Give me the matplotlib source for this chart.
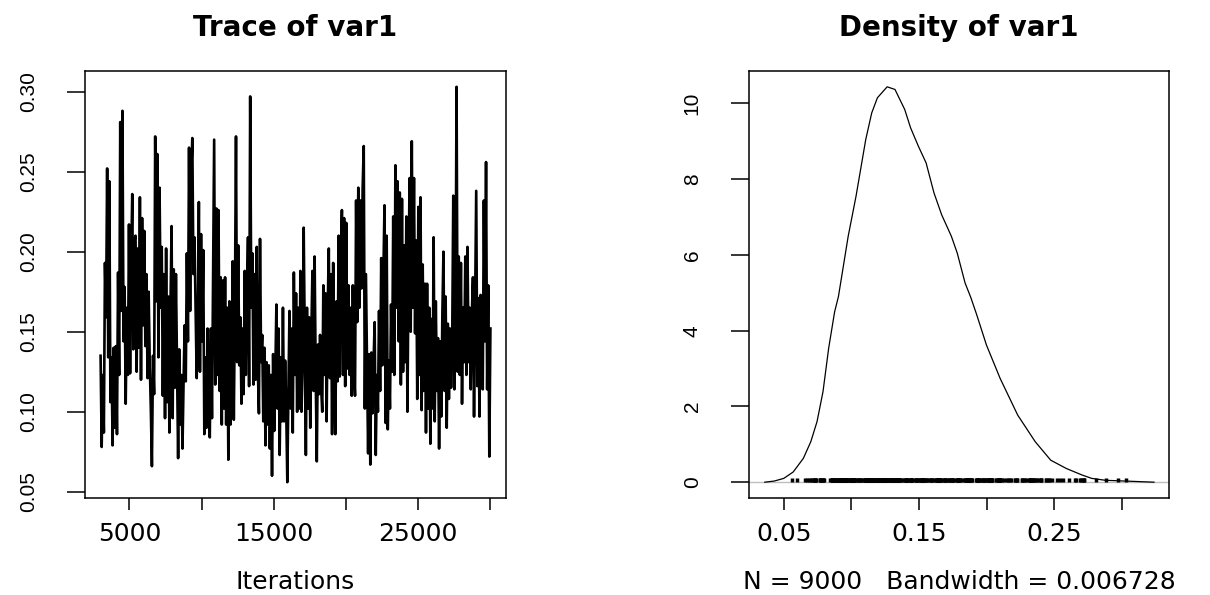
import numpy as np
import matplotlib.pyplot as plt

# coda-style plot of one MCMC chain: trace on the left, kernel density on the right
iter_start = 3003
iter_end = 30000
n_samples = 9000
bandwidth = 0.006728

# chain values (left to right)
trace_vals = [
    0.135, 0.078, 0.123, 0.087, 0.193, 0.159, 0.252, 0.134, 0.244, 0.106,
    0.134, 0.079, 0.140, 0.090, 0.141, 0.086, 0.187, 0.123, 0.281, 0.163,
    0.288, 0.144, 0.178, 0.105, 0.165, 0.123, 0.217, 0.124, 0.194, 0.236,
    0.139, 0.207, 0.210, 0.125, 0.202, 0.140, 0.234, 0.120, 0.221, 0.154,
    0.213, 0.141, 0.186, 0.121, 0.175, 0.131, 0.102, 0.066, 0.135, 0.111,
    0.272, 0.169, 0.261, 0.134, 0.240, 0.165, 0.203, 0.110, 0.186, 0.096,
    0.202, 0.106, 0.172, 0.087, 0.165, 0.216, 0.096, 0.189, 0.115, 0.186,
    0.127, 0.071, 0.139, 0.092, 0.123, 0.077, 0.119, 0.154, 0.119, 0.199,
    0.144, 0.265, 0.163, 0.248, 0.271, 0.186, 0.209, 0.163, 0.121, 0.150,
    0.231, 0.125, 0.211, 0.144, 0.201, 0.086, 0.134, 0.090, 0.152, 0.102,
    0.084, 0.152, 0.096, 0.179, 0.270, 0.117, 0.227, 0.123, 0.226, 0.113,
    0.184, 0.092, 0.182, 0.102,
    # 10000 - 20000
    0.184, 0.092, 0.165, 0.070, 0.169, 0.092, 0.123, 0.194, 0.095, 0.165,
    0.272, 0.131, 0.204, 0.129, 0.159, 0.105, 0.152, 0.111, 0.188, 0.123,
    0.175, 0.209, 0.116, 0.297, 0.165, 0.199, 0.117, 0.186, 0.120, 0.203,
    0.127, 0.099, 0.208, 0.131, 0.148, 0.094, 0.140, 0.079, 0.131, 0.092,
    0.129, 0.077, 0.123, 0.060, 0.136, 0.088, 0.123, 0.167, 0.102, 0.152,
    0.073, 0.134, 0.094, 0.165, 0.094, 0.132, 0.102, 0.056, 0.113, 0.163,
    0.102, 0.152, 0.087, 0.187, 0.123, 0.174, 0.100, 0.165, 0.102, 0.188,
    0.100, 0.129, 0.215, 0.144, 0.073, 0.165, 0.102, 0.159, 0.090, 0.148,
    0.188, 0.113, 0.197, 0.123, 0.069, 0.142, 0.111, 0.148, 0.115, 0.100,
    0.179, 0.123, 0.174, 0.094, 0.165, 0.202, 0.121, 0.186, 0.086, 0.193,
    0.123, 0.086, 0.169, 0.119, 0.210, 0.122, 0.194, 0.226, 0.123, 0.221,
    0.116, 0.218, 0.127, 0.179, 0.123, 0.165, 0.110, 0.179, 0.127, 0.110,
    0.232, 0.156, 0.240, 0.165, 0.232,
    # 20000 - 30000
    0.177, 0.240, 0.266, 0.102, 0.186, 0.131, 0.074, 0.136, 0.067, 0.137,
    0.099, 0.131, 0.156, 0.073, 0.123, 0.100, 0.163, 0.113, 0.196, 0.129,
    0.186, 0.229, 0.093, 0.210, 0.089, 0.132, 0.102, 0.167, 0.125, 0.222,
    0.123, 0.254, 0.165, 0.244, 0.144, 0.237, 0.117, 0.233, 0.125, 0.204,
    0.131, 0.222, 0.100, 0.186, 0.246, 0.150, 0.269, 0.165, 0.246, 0.149,
    0.207, 0.108, 0.228, 0.123, 0.234, 0.101, 0.192, 0.113, 0.180, 0.087,
    0.180, 0.102, 0.165, 0.080, 0.158, 0.102, 0.209, 0.094, 0.169, 0.113,
    0.146, 0.077, 0.144, 0.097, 0.161, 0.200, 0.113, 0.172, 0.090, 0.155,
    0.108, 0.152, 0.115, 0.144, 0.235, 0.114, 0.153, 0.303, 0.125, 0.197,
    0.123, 0.193, 0.105, 0.165, 0.131, 0.197, 0.123, 0.203, 0.131, 0.165,
    0.114, 0.161, 0.184, 0.097, 0.165, 0.238, 0.116, 0.171, 0.097, 0.173,
    0.119, 0.114, 0.232, 0.144, 0.256, 0.114, 0.179, 0.072, 0.152,
]

# density estimate
dens_x = [0.036, 0.043, 0.050, 0.057, 0.0645, 0.070, 0.0746, 0.079, 0.0832, 0.0876,
          0.0904, 0.0976, 0.1034, 0.1106, 0.115, 0.1192, 0.1264, 0.1322, 0.1394, 0.1437,
          0.1495, 0.1552, 0.161, 0.1667, 0.1739, 0.1782, 0.184, 0.1883, 0.1926, 0.1998,
          0.2099, 0.2229, 0.2358, 0.2473, 0.2589, 0.2704, 0.2776, 0.2877, 0.3093, 0.3236]
dens_y = [0.0, 0.03, 0.1, 0.27, 0.63, 1.07, 1.6, 2.39, 3.54, 4.5,
          4.9, 6.49, 7.55, 9.05, 9.75, 10.15, 10.44, 10.37, 9.84, 9.36,
          8.87, 8.43, 7.64, 7.06, 6.49, 6.05, 5.26, 4.87, 4.42, 3.62,
          2.74, 1.77, 1.07, 0.58, 0.36, 0.19, 0.1, 0.05, 0.02, 0.0]

trace_xticks = [5000, 10000, 15000, 20000, 25000, 30000]
trace_xlabels = ['5000', '', '15000', '', '25000', '']
trace_yticks = [0.05, 0.10, 0.15, 0.20, 0.25, 0.30]
trace_ylabels = ['0.05', '0.10', '0.15', '0.20', '0.25', '0.30']
dens_xticks = [0.05, 0.10, 0.15, 0.20, 0.25, 0.30]
dens_xlabels = ['0.05', '', '0.15', '', '0.25', '']
dens_yticks = [0, 2, 4, 6, 8, 10]
dens_ylabels = ['0', '2', '4', '6', '8', '10']


def r_lims(lo, hi):
    # R pads the data range by 4% on each side
    pad = 0.04 * (hi - lo)
    return lo - pad, hi + pad


def r_style(ax, xt, xl, yt, yl):
    for s in ax.spines.values():
        s.set_linewidth(1.1)
        s.set_color('black')
    ax.set_xticks(xt)
    ax.set_xticklabels(xl, fontsize=18)
    ax.set_yticks(yt)
    ax.set_yticklabels(yl, rotation=90, va='center', fontsize=15,
                       fontfamily='Liberation Sans')
    ax.tick_params(axis='x', length=8.6, width=1.1, pad=9, color='black')
    ax.tick_params(axis='y', length=13, width=1.1, pad=21, color='black')


iters = np.linspace(iter_start, iter_end, len(trace_vals))

fig = plt.figure(figsize=(12.1, 5.95), dpi=100)
ax1 = fig.add_axes([85 / 1210, 97 / 595, 421 / 1210, 427 / 595])
ax2 = fig.add_axes([749 / 1210, 97 / 595, 420 / 1210, 427 / 595])

# trace
ax1.plot(iters, trace_vals, color='black', lw=1.9)
ax1.set_xlim(r_lims(iter_start, iter_end))
ax1.set_ylim(r_lims(min(trace_vals), max(trace_vals)))
r_style(ax1, trace_xticks, trace_xlabels, trace_yticks, trace_ylabels)
ax1.set_xlabel('Iterations', fontsize=18, labelpad=17)
ax1.set_title('Trace of var1', fontsize=20, fontweight='bold', pad=25)

# density
ax2.axhline(0, color='#bebebe', lw=1.0)
ax2.plot(dens_x, dens_y, color='black', lw=0.9)
ax2.vlines(trace_vals, 0, max(dens_y) / 100, color='black', lw=2.5)
ax2.set_xlim(r_lims(min(trace_vals) - 3 * bandwidth, max(trace_vals) + 3 * bandwidth))
ax2.set_ylim(r_lims(0, max(dens_y)))
r_style(ax2, dens_xticks, dens_xlabels, dens_yticks, dens_ylabels)
ax2.set_xlabel('N = %d   Bandwidth = %s' % (n_samples, bandwidth), fontsize=18, labelpad=17)
ax2.set_title('Density of var1', fontsize=20, fontweight='bold', pad=25)

plt.savefig('out.png', dpi=100)
